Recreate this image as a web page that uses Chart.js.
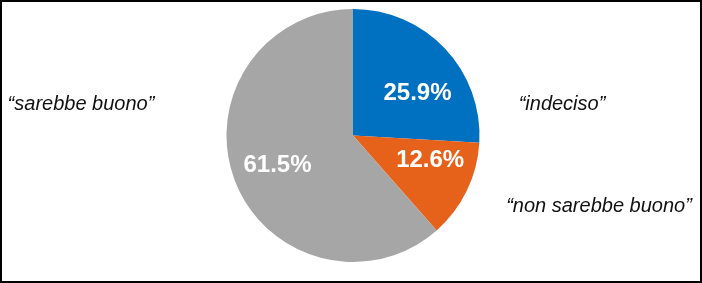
<!DOCTYPE html>
<html>
<head>
<meta charset="utf-8">
<script src="https://cdn.jsdelivr.net/npm/chart.js@4/dist/chart.umd.min.js"></script>
<style>
  html, body { margin: 0; padding: 0; background: #fff; }
  #box { width: 702px; height: 283px; box-sizing: border-box; border: 2px solid #000; position: relative; }
  canvas { display: block; }
</style>
</head>
<body>
<div id="box"><canvas id="c" width="698" height="279"></canvas></div>
<script>
const categories = ["“indeciso”", "“non sarebbe buono”", "“sarebbe buono”"];
const values = [25.9, 12.6, 61.5];
const valueLabels = ["25.9%", "12.6%", "61.5%"];
const colors = ["#0070C0", "#E6621A", "#A6A6A6"];

// in-slice label offsets relative to center, in units of radius
const innerOffsets = [[0.51, -0.335], [0.61, 0.195], [-0.597, 0.235]];
// outside category label positions (canvas coords, center-aligned)
const outerPos = [[560, 102], [597, 204], [79, 102]];

const labelPlugin = {
  id: 'labels',
  afterDatasetsDraw(chart) {
    const ctx = chart.ctx;
    const meta = chart.getDatasetMeta(0);
    ctx.save();
    meta.data.forEach((arc, i) => {
      const r = arc.outerRadius;
      const x = arc.x + innerOffsets[i][0] * r;
      const y = arc.y + innerOffsets[i][1] * r;
      ctx.fillStyle = '#fff';
      ctx.font = 'bold 24px "Liberation Sans", Arial, sans-serif';
      ctx.textAlign = 'center';
      ctx.textBaseline = 'middle';
      ctx.fillText(valueLabels[i], x, y);
      ctx.fillStyle = '#111';
      ctx.font = 'italic 20px "Liberation Sans", Arial, sans-serif';
      ctx.fillText(categories[i], outerPos[i][0], outerPos[i][1]);
    });
    ctx.restore();
  }
};

new Chart(document.getElementById('c'), {
  type: 'pie',
  data: {
    labels: categories,
    datasets: [{
      data: values,
      backgroundColor: colors,
      borderWidth: 0
    }]
  },
  options: {
    responsive: false,
    animation: false,
    rotation: 0,
    layout: { padding: { left: 224.5, right: 220.5, top: 7, bottom: 19 } },
    plugins: { legend: { display: false }, tooltip: { enabled: false } }
  },
  plugins: [labelPlugin]
});
</script>
</body>
</html>
